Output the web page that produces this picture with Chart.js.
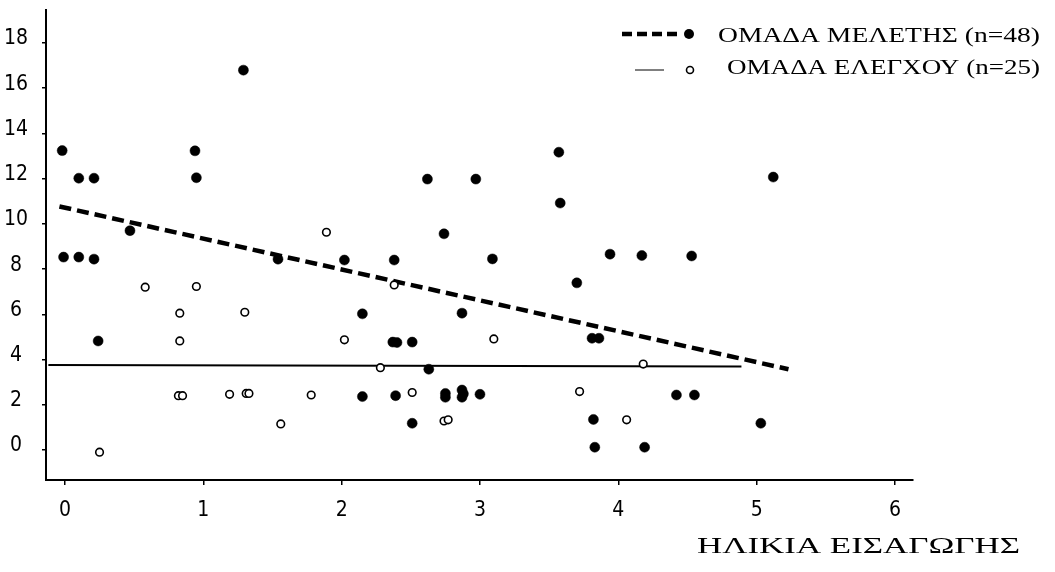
<!DOCTYPE html>
<html><head><meta charset="utf-8">
<script src="https://cdn.jsdelivr.net/npm/chart.js@4/dist/chart.umd.min.js"></script>
<style>html,body{margin:0;padding:0;background:#fff}canvas{display:block}</style>
</head><body>
<canvas id="c" width="1055" height="572"></canvas>
<script>
// ---- data ----
const studyX = [-0.02,0.10,0.21,0.94,0.95,1.29,0.47,-0.01,0.10,0.21,0.24,1.54,2.02,2.38,2.62,2.97,3.57,3.58,2.74,3.09,3.94,4.17,4.53,5.12,3.70,2.15,2.87,2.37,2.40,2.51,3.81,3.86,2.63,2.15,2.39,2.75,2.75,2.87,2.87,2.88,3.00,2.51,3.82,3.83,4.19,4.42,4.55,5.03];
const studyY = [13.24,12.02,12.02,13.23,12.04,16.8,9.7,8.53,8.53,8.44,4.82,8.44,8.4,8.4,11.98,11.98,13.17,10.92,9.56,8.45,8.66,8.6,8.58,12.07,7.39,6.02,6.05,4.77,4.75,4.77,4.94,4.94,3.57,2.36,2.4,2.5,2.33,2.65,2.33,2.48,2.46,1.18,1.35,0.12,0.12,2.43,2.43,1.18];
const controlX = [0.58,0.95,1.89,0.83,1.30,0.83,2.02,0.82,0.85,1.19,1.31,1.33,1.78,1.56,0.25,2.38,3.10,2.28,4.18,2.51,3.72,2.74,2.77,4.06];
const controlY = [7.2,7.23,9.63,6.05,6.09,4.82,4.87,2.4,2.4,2.46,2.5,2.5,2.43,1.15,-0.1,7.3,4.91,3.64,3.8,2.54,2.58,1.28,1.33,1.33];
const studyTrendX = [-0.04, 5.23];
const studyTrendY = [10.77, 3.57];
const controlTrendX = [-0.12, 4.89];
const controlTrendY = [3.76, 3.69];
const xTicks = [0,1,2,3,4,5,6];
const yTicks = [0,2,4,6,8,10,12,14,16,18];
const legendLabels = ['ΟΜΑΔΑ ΜΕΛΕΤΗΣ (n=48)', 'ΟΜΑΔΑ ΕΛΕΓΧΟΥ (n=25)'];
const xTitle = 'ΗΛΙΚΙΑ ΕΙΣΑΓΩΓΗΣ';

const pts = (xs, ys) => xs.map((x, i) => ({x: x, y: ys[i]}));
const tickFont = {family: "'DejaVu Sans Condensed','DejaVu Sans',sans-serif", size: 21};
const serif = "'Liberation Serif','DejaVu Serif',serif";

// draw text stretched horizontally to a target width
function stretchedText(ctx, text, x, y, width) {
  const w = ctx.measureText(text).width;
  ctx.save();
  ctx.translate(x, y);
  ctx.scale(width / w, 1);
  ctx.fillText(text, 0, 0);
  ctx.restore();
}

const annotate = {
  id: 'annotate',
  afterDraw(chart) {
    const ctx = chart.ctx;
    ctx.save();
    ctx.fillStyle = '#000';
    ctx.strokeStyle = '#000';
    // legend row 1
    ctx.lineWidth = 4.5;
    ctx.setLineDash([10, 5]);
    ctx.beginPath(); ctx.moveTo(622, 34); ctx.lineTo(682, 34); ctx.stroke();
    ctx.setLineDash([]);
    ctx.beginPath(); ctx.arc(689, 34, 5, 0, Math.PI * 2); ctx.fill();
    // legend row 2
    ctx.lineWidth = 1;
    ctx.beginPath(); ctx.moveTo(635, 70); ctx.lineTo(664, 70); ctx.stroke();
    ctx.lineWidth = 1.6;
    ctx.beginPath(); ctx.arc(690, 70, 3.5, 0, Math.PI * 2); ctx.fillStyle = '#fff'; ctx.fill(); ctx.stroke();
    ctx.fillStyle = '#000';
    ctx.font = '22px ' + serif;
    ctx.textAlign = 'left';
    ctx.textBaseline = 'alphabetic';
    stretchedText(ctx, legendLabels[0], 718, 42, 322);
    stretchedText(ctx, legendLabels[1], 727, 74, 313);
    // x axis title
    ctx.font = '23px ' + serif;
    stretchedText(ctx, xTitle, 697, 553, 323);
    ctx.restore();
  }
};

new Chart(document.getElementById('c'), {
  type: 'scatter',
  data: {
    datasets: [
      {label: legendLabels[0], data: pts(studyX, studyY), pointRadius: 5, pointBackgroundColor: '#000', pointBorderColor: '#000', pointBorderWidth: 0.5},
      {label: legendLabels[1], data: pts(controlX, controlY), pointRadius: 3.8, pointBackgroundColor: '#fff', pointBorderColor: '#000', pointBorderWidth: 1.6},
      {label: 'trend1', data: pts(studyTrendX, studyTrendY), showLine: true, pointRadius: 0, borderColor: '#000', borderWidth: 4.5, borderDash: [12, 6]},
      {label: 'trend2', data: pts(controlTrendX, controlTrendY), showLine: true, pointRadius: 0, borderColor: '#000', borderWidth: 2}
    ]
  },
  options: {
    responsive: false,
    animation: false,
    devicePixelRatio: 1,
    layout: {padding: {left: 0, right: 142, top: 10, bottom: 0}},
    plugins: {legend: {display: false}, tooltip: {enabled: false}},
    scales: {
      x: {
        type: 'linear', min: -0.137, max: 6.13,
        afterBuildTicks: s => { s.ticks = xTicks.map(v => ({value: v})); },
        afterFit: s => { s.height = 92; s.paddingLeft = 0; s.paddingRight = 0; },
        border: {color: '#000', width: 2},
        grid: {drawOnChartArea: false, color: '#000', tickLength: 5, lineWidth: 1.5},
        ticks: {color: '#000', font: tickFont, padding: 13, autoSkip: false, maxRotation: 0}
      },
      y: {
        type: 'linear', min: -1.33, max: 19.46,
        afterBuildTicks: s => { s.ticks = yTicks.map(v => ({value: v})); },
        afterFit: s => { s.width = 46; s.paddingTop = 0; s.paddingBottom = 0; },
        border: {color: '#000', width: 2},
        grid: {drawOnChartArea: false, color: '#000', tickLength: 4, lineWidth: 1.5},
        ticks: {color: '#000', font: tickFont, padding: 14, crossAlign: 'center', labelOffset: -4, autoSkip: false}
      }
    }
  },
  plugins: [annotate]
});
</script>
</body></html>
